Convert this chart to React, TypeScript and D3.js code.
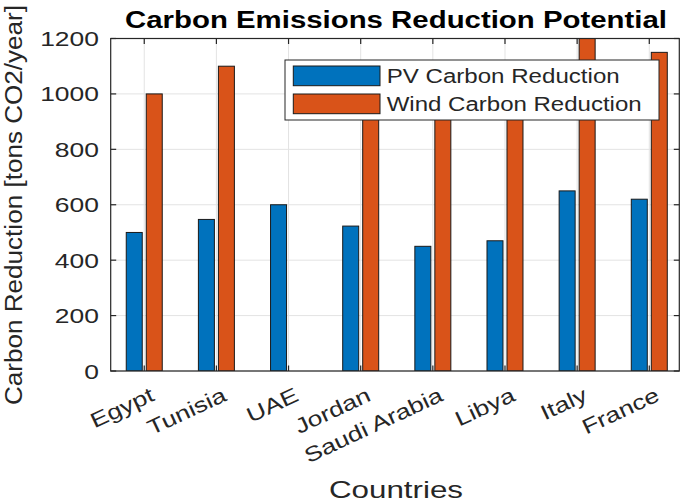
import * as d3 from "d3";

const countries = ["Egypt", "Tunisia", "UAE", "Jordan", "Saudi Arabia", "Libya", "Italy", "France"];
const pvReduction = [500, 547, 600, 523, 450, 470, 650, 620];
const windReduction = [1000, 1100, 0, 950, 980, 960, 1250, 1150];
const yTicks = [0, 200, 400, 600, 800, 1000, 1200];
const seriesNames = ["PV Carbon Reduction", "Wind Carbon Reduction"];
const seriesColors = ["#0072BD", "#D95319"];

const W = 685;
const H = 503;
const FONT = "'Liberation Sans', Arial, Helvetica, sans-serif";
const AXIS = "#262626";

export default function App() {
  const x = d3.scaleLinear().domain([0.535, 8.416]).range([110.7, 679.3]);
  const y = d3.scaleLinear().domain([0, 1200]).range([371, 38.5]);
  const [x0, x1] = x.range();
  const [yb, yt] = y.range();
  const barW = x(1.2217) - x(1);
  const offset = x(1.1386) - x(1);
  const tickLen = 5.5;
  const series = [pvReduction, windReduction];

  return (
    <svg
      width={W}
      height={H}
      style={{ position: "absolute", left: 0, top: 0, background: "#fff" }}
      fontFamily={FONT}
    >
      <defs>
        <clipPath id="plot">
          <rect x={x0} y={yt} width={x1 - x0} height={yb - yt} />
        </clipPath>
      </defs>
      <rect width={W} height={H} fill="#fff" />

      {/* grid */}
      <g stroke="#e3e3e3" strokeWidth={1}>
        {countries.map((_, i) => (
          <line key={"gx" + i} x1={x(i + 1)} x2={x(i + 1)} y1={yt} y2={yb} />
        ))}
        {yTicks.map((t) => (
          <line key={"gy" + t} x1={x0} x2={x1} y1={y(t)} y2={y(t)} />
        ))}
      </g>

      {/* bars */}
      <g clipPath="url(#plot)" stroke="#1a1a1a" strokeWidth={1}>
        {series.map((vals, s) =>
          vals.map((v, i) =>
            v > 0 ? (
              <rect
                key={s + "-" + i}
                x={x(i + 1) + (s === 0 ? -offset : offset) - barW / 2}
                y={y(v)}
                width={barW}
                height={yb - y(v)}
                fill={seriesColors[s]}
              />
            ) : null
          )
        )}
      </g>

      {/* axes box and ticks */}
      <g stroke={AXIS} strokeWidth={1.2} fill="none">
        <rect x={x0} y={yt} width={x1 - x0} height={yb - yt} />
        {countries.map((_, i) => (
          <g key={"tx" + i}>
            <line x1={x(i + 1)} x2={x(i + 1)} y1={yb} y2={yb - tickLen} />
            <line x1={x(i + 1)} x2={x(i + 1)} y1={yt} y2={yt + tickLen} />
          </g>
        ))}
        {yTicks.map((t) => (
          <g key={"ty" + t}>
            <line x1={x0} x2={x0 + tickLen} y1={y(t)} y2={y(t)} />
            <line x1={x1} x2={x1 - tickLen} y1={y(t)} y2={y(t)} />
          </g>
        ))}
      </g>

      {/* y tick labels */}
      <g fill={AXIS} fontSize={21} textAnchor="end">
        {yTicks.map((t) => (
          <text key={"yl" + t} transform={`translate(99,${y(t) + 7.5}) scale(1.26,1)`}>
            {t}
          </text>
        ))}
      </g>

      {/* x tick labels */}
      <g fill={AXIS} fontSize={21} textAnchor="end">
        {countries.map((c, i) => (
          <text
            key={"xl" + c}
            transform={`translate(${x(i + 1) + 11.5},400) rotate(-25) scale(1.26,1)`}
          >
            {c}
          </text>
        ))}
      </g>

      {/* axis labels */}
      <text
        x={396}
        y={498}
        fontSize={24}
        fill={AXIS}
        textAnchor="middle"
        textLength={134}
        lengthAdjust="spacingAndGlyphs"
      >
        Countries
      </text>
      <text
        transform="translate(22,205) rotate(-90)"
        fontSize={23}
        fill={AXIS}
        textAnchor="middle"
        textLength={400}
        lengthAdjust="spacingAndGlyphs"
      >
        Carbon Reduction [tons CO2/year]
      </text>

      {/* title */}
      <text
        x={396}
        y={28.3}
        fontSize={23.3}
        fontWeight="bold"
        fill="#000"
        textAnchor="middle"
        textLength={542}
        lengthAdjust="spacingAndGlyphs"
      >
        Carbon Emissions Reduction Potential
      </text>

      {/* legend */}
      <g>
        <rect x={285} y={60} width={374} height={60} fill="#fff" stroke={AXIS} strokeWidth={1} />
        {seriesNames.map((name, s) => (
          <g key={name}>
            <rect
              x={293.3}
              y={66 + s * 28}
              width={86.7}
              height={19.7}
              fill={seriesColors[s]}
              stroke="#1a1a1a"
              strokeWidth={1}
            />
            <text
              x={386.7}
              y={83 + s * 28}
              fontSize={20}
              fill={AXIS}
              textLength={s === 0 ? 233 : 255}
              lengthAdjust="spacingAndGlyphs"
            >
              {name}
            </text>
          </g>
        ))}
      </g>
    </svg>
  );
}
